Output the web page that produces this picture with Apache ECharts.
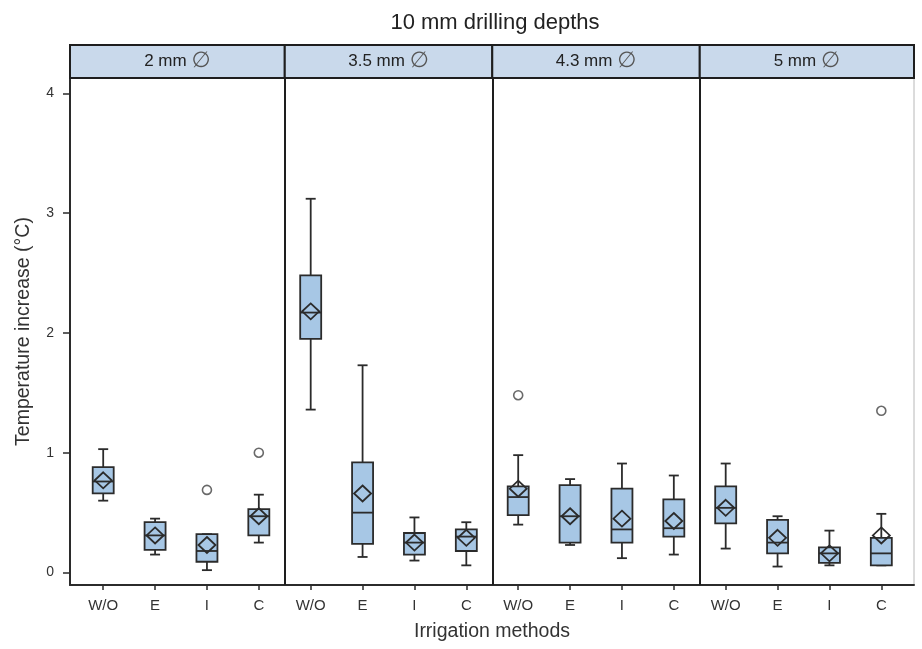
<!DOCTYPE html>
<html>
<head>
<meta charset="utf-8">
<script src="https://cdn.jsdelivr.net/npm/echarts@6/dist/echarts.min.js"></script>
<style>html,body{margin:0;padding:0;background:#fff}#c{width:922px;height:649px}</style>
</head>
<body>
<div id="c"></div>
<script>
// ---- data ----
const panels = ['2 mm', '3.5 mm', '4.3 mm', '5 mm'];
const methods = ['W/O', 'E', 'I', 'C'];
const yTicks = [0, 1, 2, 3, 4];
// per box: [min, Q1, median, Q3, max, mean], in panel order, method order
const boxStats = [
  [0.60, 0.66, 0.76, 0.88, 1.03, 0.77],
  [0.15, 0.19, 0.31, 0.42, 0.45, 0.31],
  [0.02, 0.09, 0.18, 0.32, 0.32, 0.23],
  [0.25, 0.31, 0.47, 0.53, 0.65, 0.47],
  [1.36, 1.95, 2.17, 2.48, 3.12, 2.18],
  [0.13, 0.24, 0.50, 0.92, 1.73, 0.66],
  [0.10, 0.15, 0.25, 0.33, 0.46, 0.25],
  [0.06, 0.18, 0.30, 0.36, 0.42, 0.29],
  [0.40, 0.48, 0.63, 0.72, 0.98, 0.70],
  [0.23, 0.25, 0.47, 0.73, 0.78, 0.47],
  [0.12, 0.25, 0.36, 0.70, 0.91, 0.45],
  [0.15, 0.30, 0.37, 0.61, 0.81, 0.43],
  [0.20, 0.41, 0.54, 0.72, 0.91, 0.54],
  [0.05, 0.16, 0.25, 0.44, 0.47, 0.29],
  [0.06, 0.08, 0.16, 0.21, 0.35, 0.16],
  [0.06, 0.06, 0.16, 0.29, 0.49, 0.31]
];
// outliers: [box index, value]
const outliers = [[2, 0.69], [3, 1.00], [8, 1.48], [15, 1.35]];

// ---- layout ----
const xMin = -0.64, xMax = 15.63;
const nPer = methods.length;
const boxData = boxStats.map((s, i) => [i].concat(s));
const catIdx = boxStats.map((s, i) => i);
const dividers = panels.slice(1).map((p, k) => ({ xAxis: (k + 1) * nPer - 0.5 }));
const headerAreas = panels.map((p, k) => [
  { xAxis: k === 0 ? xMin : k * nPer - 0.5, name: p },
  { xAxis: k === panels.length - 1 ? xMax : (k + 1) * nPer - 0.5 }
]);

const ink = '#2b2b2b';
const boxFill = '#a7c7e5';

const chart = echarts.init(document.getElementById('c'), null, { renderer: 'canvas' });
chart.setOption({
  backgroundColor: '#ffffff',
  animation: false,
  title: {
    text: '10 mm drilling depths',
    left: 490, top: 7, textAlign: 'center',
    textStyle: { fontFamily: 'Liberation Sans', fontSize: 22, fontWeight: 'normal', color: '#222' }
  },
  grid: [
    { left: 70, right: 8, top: 78, bottom: 64, show: true, borderColor: '#b8b8b8', borderWidth: 1, backgroundColor: 'transparent' },
    { left: 70, right: 8, top: 45, height: 33, show: false }
  ],
  xAxis: [
    {
      type: 'value', gridIndex: 0, min: xMin, max: xMax,
      name: 'Irrigation methods', nameLocation: 'middle', nameGap: 37,
      nameTextStyle: { fontFamily: 'Liberation Sans', fontSize: 19.5, color: '#333' },
      axisLine: { show: true, onZero: false, lineStyle: { color: ink, width: 2 } },
      axisTick: { show: true, customValues: catIdx, length: 5, lineStyle: { color: ink, width: 1.5 } },
      axisLabel: {
        customValues: catIdx, margin: 13,
        formatter: v => methods[Math.round(v) % nPer],
        fontFamily: 'Liberation Sans', fontSize: 15, color: '#333'
      },
      splitLine: { show: false }
    },
    { type: 'value', gridIndex: 1, min: xMin, max: xMax, show: false }
  ],
  yAxis: [
    {
      type: 'value', gridIndex: 0, min: -0.104, max: 4.128,
      name: 'Temperature increase (°C)', nameLocation: 'middle', nameGap: 36,
      nameTextStyle: { fontFamily: 'Liberation Sans', fontSize: 19.5, color: '#333' },
      axisLine: { show: true, onZero: false, lineStyle: { color: ink, width: 2 } },
      axisTick: { show: true, customValues: yTicks, length: 7, lineStyle: { color: ink, width: 1.5 } },
      axisLabel: { customValues: yTicks, margin: 16, fontFamily: 'Liberation Sans', fontSize: 14, color: '#333' },
      splitLine: { show: false }
    },
    { type: 'value', gridIndex: 1, min: 0, max: 1, show: false }
  ],
  series: [
    {
      type: 'scatter', xAxisIndex: 1, yAxisIndex: 1, data: [[0, -5]], symbolSize: 0, silent: true,
      markArea: {
        silent: true,
        itemStyle: { color: '#c9d9eb', borderColor: '#1e1e1e', borderWidth: 2 },
        label: {
          show: true, position: 'inside',
          formatter: p => '{t|' + p.name + ' }{d|∅}',
          rich: {
            t: { fontFamily: 'Liberation Sans', fontSize: 17, color: '#222' },
            d: { fontFamily: 'DejaVu Sans', fontSize: 22, color: '#555' }
          }
        },
        data: headerAreas
      }
    },
    {
      type: 'custom', xAxisIndex: 0, yAxisIndex: 0,
      data: boxData,
      encode: { x: 0, y: [1, 2, 3, 4, 5, 6] },
      renderItem: function (params, api) {
        const x = api.value(0);
        const pMin = api.coord([x, api.value(1)]);
        const pQ1 = api.coord([x, api.value(2)]);
        const pMed = api.coord([x, api.value(3)]);
        const pQ3 = api.coord([x, api.value(4)]);
        const pMax = api.coord([x, api.value(5)]);
        const pMean = api.coord([x, api.value(6)]);
        const cx = pMin[0];
        const bw = 21, cw = 10, dw = 8.5, dh = 8;
        const st = { stroke: ink, lineWidth: 1.8, fill: null };
        return {
          type: 'group',
          children: [
            { type: 'line', shape: { x1: cx, y1: pMax[1], x2: cx, y2: pQ3[1] }, style: st },
            { type: 'line', shape: { x1: cx, y1: pQ1[1], x2: cx, y2: pMin[1] }, style: st },
            { type: 'line', shape: { x1: cx - cw / 2, y1: pMax[1], x2: cx + cw / 2, y2: pMax[1] }, style: st },
            { type: 'line', shape: { x1: cx - cw / 2, y1: pMin[1], x2: cx + cw / 2, y2: pMin[1] }, style: st },
            { type: 'rect', shape: { x: cx - bw / 2, y: pQ3[1], width: bw, height: pQ1[1] - pQ3[1] },
              style: { fill: boxFill, stroke: ink, lineWidth: 1.8 } },
            { type: 'line', shape: { x1: cx - bw / 2, y1: pMed[1], x2: cx + bw / 2, y2: pMed[1] }, style: st },
            { type: 'polygon', shape: { points: [[cx, pMean[1] - dh], [cx + dw, pMean[1]], [cx, pMean[1] + dh], [cx - dw, pMean[1]]] },
              style: { fill: null, stroke: ink, lineWidth: 1.8 } }
          ]
        };
      },
      markLine: {
        silent: true, symbol: ['none', 'none'], label: { show: false },
        lineStyle: { color: '#1e1e1e', width: 2, type: 'solid' },
        data: dividers
      }
    },
    {
      type: 'scatter', xAxisIndex: 0, yAxisIndex: 0,
      data: outliers, symbol: 'circle', symbolSize: 9,
      itemStyle: { color: '#ffffff', borderColor: '#444', borderWidth: 1.6 }
    }
  ]
});
</script>
</body>
</html>
